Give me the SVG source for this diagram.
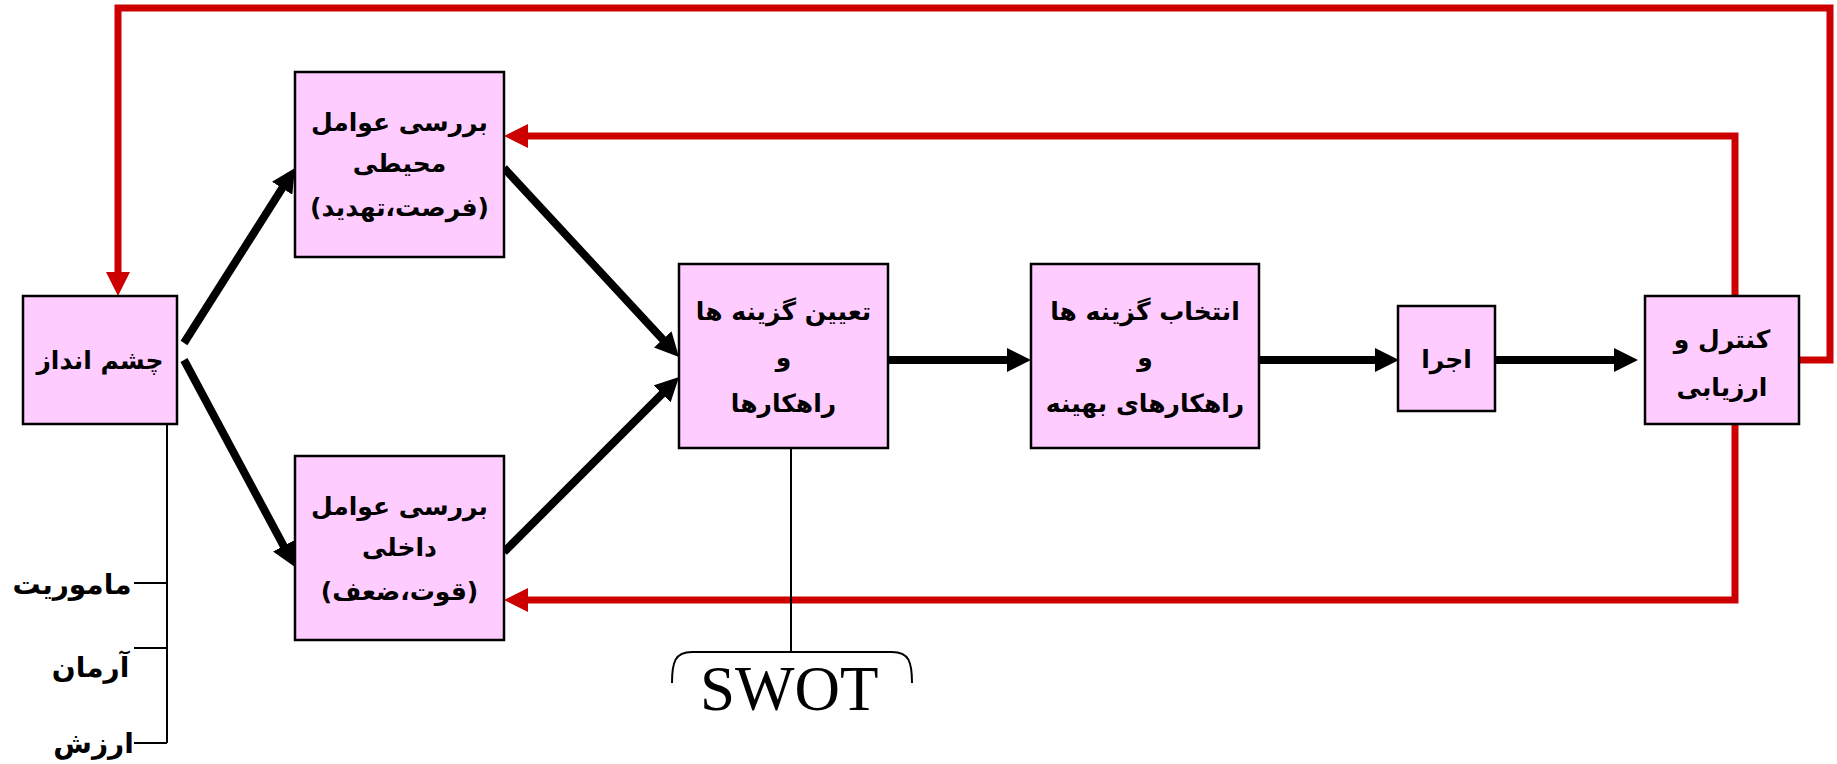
<svg xmlns="http://www.w3.org/2000/svg" width="1837" height="764" viewBox="0 0 1837 764">
<style>
.box{fill:#FFCCFF;stroke:#000;stroke-width:2.5}
.t{font-family:"DejaVu Sans","Noto Sans",sans-serif;font-weight:bold;font-size:25px;fill:#000;text-anchor:middle}
.lb{font-size:28px}
.blk{fill:none;stroke:#000;stroke-width:8;marker-end:url(#ab)}
.red{fill:none;stroke:#CC0000;stroke-width:7;marker-end:url(#ar)}
.thin{fill:none;stroke:#000;stroke-width:2}
</style>
<defs>
<marker id="ab" markerUnits="userSpaceOnUse" markerWidth="24" markerHeight="24" refX="4" refY="12" orient="auto"><path d="M0,0 L24,12 L0,24 z" fill="#000"/></marker>
<marker id="ar" markerUnits="userSpaceOnUse" markerWidth="24" markerHeight="24" refX="4" refY="12" orient="auto"><path d="M0,0 L24,12 L0,24 z" fill="#CC0000"/></marker>
</defs>
<g id="connectors">
<path class="red" d="M1799,360 H1830 V8 H118 V276"/>
<path class="red" d="M1735,296 V136 H524"/>
<path class="red" d="M1735,424 V600 H524"/>
<path class="blk" d="M184,343 L284.3,184.9"/>
<path class="blk" d="M184,360 L285.5,549.4"/>
<path class="blk" d="M504,168 L665.4,342.3"/>
<path class="blk" d="M504,552 L664.9,391.1"/>
<path class="blk" d="M888,360 H1011"/>
<path class="blk" d="M1259,360 H1379"/>
<path class="blk" d="M1495,360 H1618"/>
<path class="thin" d="M167,424 V743 M134,583 H167 M134,648 H167 M134,743 H167"/>
<path class="thin" d="M791,448 V652"/>
<path class="thin" d="M672,683 C672,662 675,652 692,652 H892 C909,652 912,662 912,683"/>
</g>
<g id="n-vision">
<rect class="box" x="23" y="296" width="154" height="128"/>
<text class="t" x="100" y="369">چشم انداز</text>
</g>
<g id="n-external">
<rect class="box" x="295" y="72" width="209" height="185"/>
<text class="t" x="399.5" y="131">بررسی عوامل</text>
<text class="t" x="399.5" y="172">محیطی</text>
<text class="t" x="399.5" y="216">(فرصت،تهدید)</text>
</g>
<g id="n-internal">
<rect class="box" x="295" y="456" width="209" height="184"/>
<text class="t" x="399.5" y="515">بررسی عوامل</text>
<text class="t" x="399.5" y="556">داخلی</text>
<text class="t" x="399.5" y="600">(قوت،ضعف)</text>
</g>
<g id="n-options">
<rect class="box" x="679" y="264" width="209" height="184"/>
<text class="t" x="783.5" y="320">تعیین گزینه ها</text>
<text class="t" x="783.5" y="366">و</text>
<text class="t" x="783.5" y="412">راهکارها</text>
</g>
<g id="n-select">
<rect class="box" x="1031" y="264" width="228" height="184"/>
<text class="t" x="1145" y="320">انتخاب گزینه ها</text>
<text class="t" x="1145" y="366">و</text>
<text class="t" x="1145" y="412">راهکارهای بهینه</text>
</g>
<g id="n-exec">
<rect class="box" x="1398" y="306" width="97" height="105"/>
<text class="t" x="1446.5" y="368">اجرا</text>
</g>
<g id="n-control">
<rect class="box" x="1645" y="296" width="154" height="128"/>
<text class="t" x="1722" y="348">کنترل و</text>
<text class="t" x="1722" y="396">ارزیابی</text>
</g>
<g id="labels">
<text class="t lb" x="72" y="594">ماموریت</text>
<text class="t lb" x="90.5" y="677">آرمان</text>
<text class="t lb" x="93.5" y="753">ارزش</text>
<text x="700" y="710" font-family="Liberation Serif,serif" font-size="63" fill="#000">SWOT</text>
</g>
</svg>
